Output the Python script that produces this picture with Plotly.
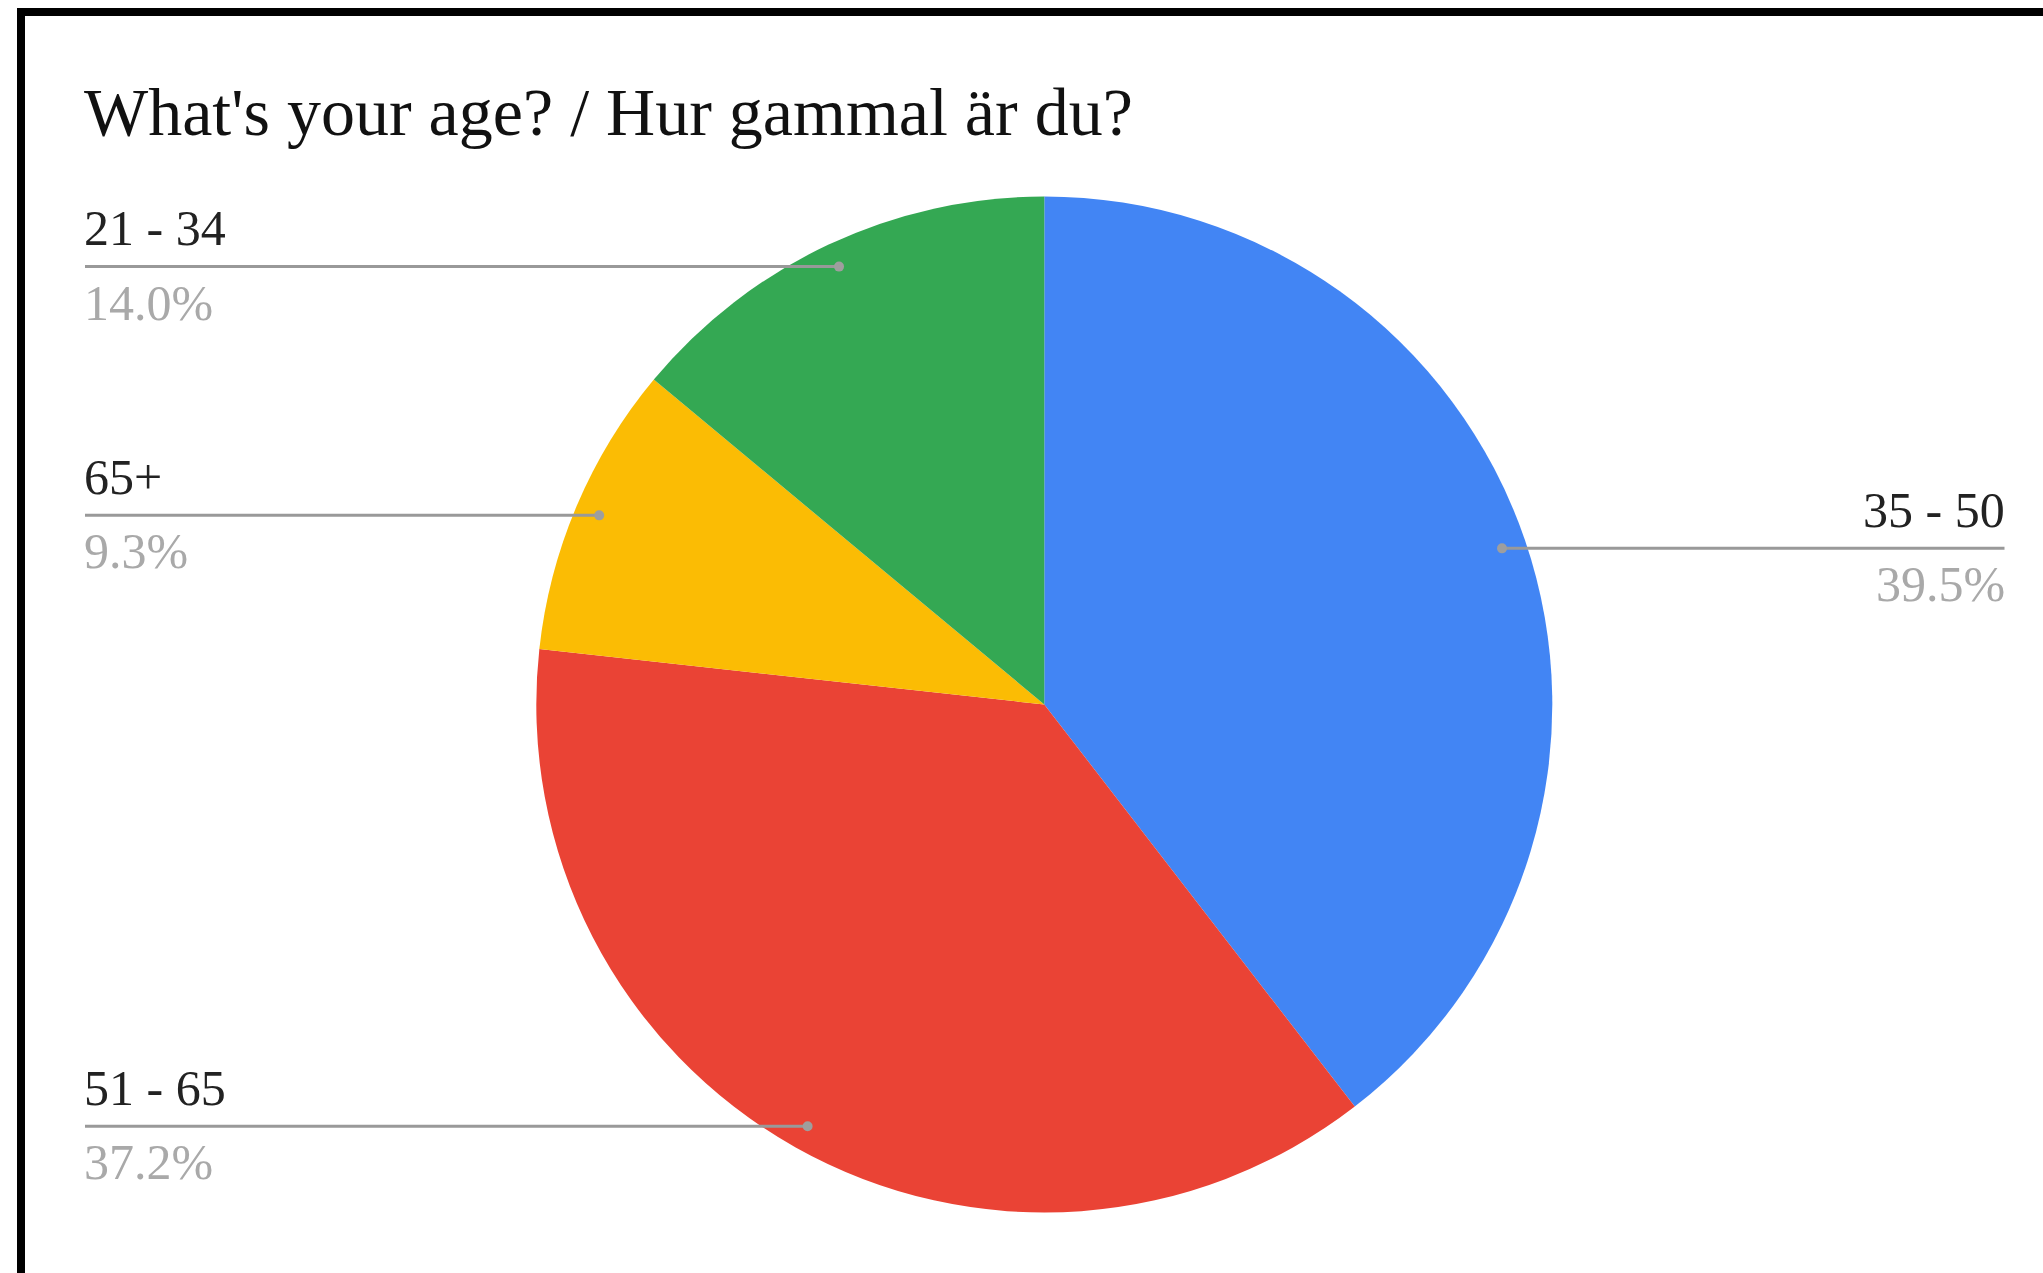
import math
import plotly.graph_objects as go

# ---- data ----
labels = ["35 - 50", "51 - 65", "65+", "21 - 34"]
counts = [17, 16, 4, 6]
colors = ["#4285F4", "#EA4335", "#FBBC04", "#34A853"]
title_text = "What's your age? / Hur gammal är du?"

W, H = 2043, 1273
# pie geometry in pixels
cx, cy, R = 1044.3, 704.5, 508.0
LEFT_X, RIGHT_X = 85, 2004.5
FONT = "Liberation Serif"
LS = 50  # label font size
TS = 68  # title font size


def px(x):
    return x / W


def py(y):
    return 1 - y / H


fig = go.Figure()
fig.add_trace(go.Pie(
    labels=labels, values=counts, sort=False, direction="clockwise", rotation=0,
    marker=dict(colors=colors, line=dict(width=0)),
    textinfo="none", showlegend=False, hoverinfo="label+percent",
    domain=dict(x=[px(cx - R), px(cx + R)], y=[py(cy + R), py(cy - R)]),
))

shapes = [
    # black frame edges
    dict(type="rect", xref="paper", yref="paper", x0=px(17), x1=1.0, y0=py(16), y1=py(8),
         fillcolor="black", line=dict(width=0), layer="above"),
    dict(type="rect", xref="paper", yref="paper", x0=px(17), x1=px(25), y0=0, y1=py(8),
         fillcolor="black", line=dict(width=0), layer="above"),
]
annotations = [
    dict(text=title_text, xref="paper", yref="paper", x=px(82), y=py(135 - 0.3375 * TS),
         xanchor="left", yanchor="middle", showarrow=False,
         font=dict(family=FONT, size=TS, color="#111111")),
]

total = sum(counts)
cum = 0
for lab, c in zip(labels, counts):
    mid = (cum + c / 2) / total * 2 * math.pi
    cum += c
    d = 0.952 * R
    dx = cx + math.sin(mid) * d
    dy = cy - math.cos(mid) * d
    right = math.sin(mid) > 0
    end_x = RIGHT_X if right else LEFT_X
    shapes.append(dict(type="line", xref="paper", yref="paper", x0=px(dx), x1=px(end_x),
                       y0=py(dy), y1=py(dy), line=dict(color="#999999", width=3), layer="above"))
    r = 5
    shapes.append(dict(type="circle", xref="paper", yref="paper", x0=px(dx - r), x1=px(dx + r),
                       y0=py(dy + r), y1=py(dy - r), fillcolor="#9e9e9e", line=dict(width=0),
                       layer="above"))
    pct = f"{c / total * 100:.1f}%"
    anchor = "right" if right else "left"
    tx = end_x + (2 if right else -3)
    annotations.append(dict(text=lab, xref="paper", yref="paper", x=px(tx),
                            y=py(dy - 21.7 - 0.3375 * LS), xanchor=anchor, yanchor="middle",
                            showarrow=False, font=dict(family=FONT, size=LS, color="#222222")))
    annotations.append(dict(text=pct, xref="paper", yref="paper", x=px(tx),
                            y=py(dy + 53 - 0.3375 * LS), xanchor=anchor, yanchor="middle",
                            showarrow=False, font=dict(family=FONT, size=LS, color="#a9a9a9")))

fig.update_layout(
    width=W, height=H, margin=dict(l=0, r=0, t=0, b=0, pad=0),
    paper_bgcolor="white", plot_bgcolor="white",
    shapes=shapes, annotations=annotations,
)

fig.write_html("out.html", config={"displayModeBar": False},
               post_script="document.body.style.margin='0';document.body.style.overflow='hidden';")
